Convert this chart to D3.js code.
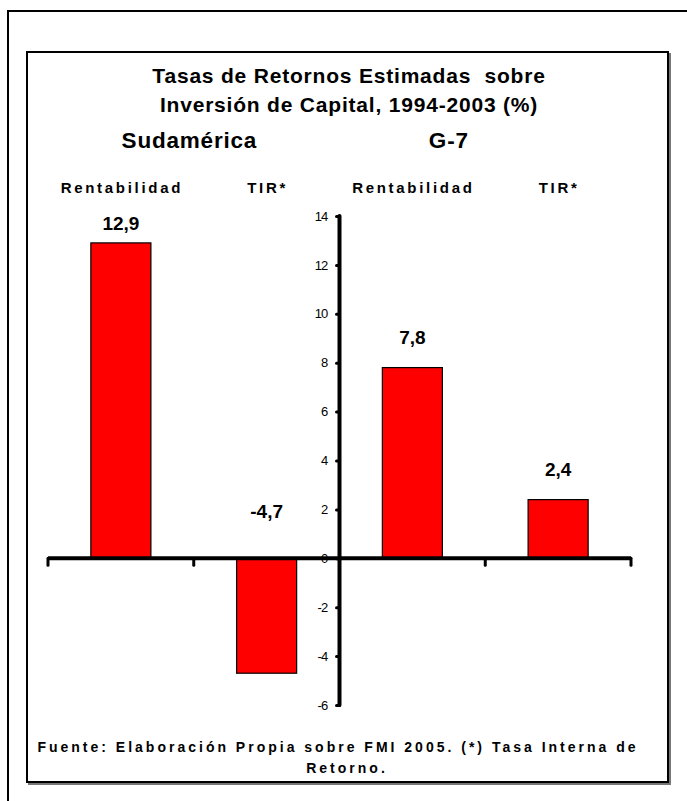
<!DOCTYPE html>
<html>
<head>
<meta charset="utf-8">
<script src="https://cdn.jsdelivr.net/npm/d3@7"></script>
<style>
  html, body { margin: 0; padding: 0; background: #fff; }
  svg { display: block; font-family: "Liberation Sans", Arial, sans-serif; }
  text { white-space: pre; }
</style>
</head>
<body>
<svg id="chart" width="687" height="801"></svg>
<script>
// Estimated returns on capital investment, 1994-2003 (%)
const groups = ["Sudamérica", "G-7"];
const metrics = ["Rentabilidad", "TIR*"];
const categories = ["Sudamérica|Rentabilidad", "Sudamérica|TIR*", "G-7|Rentabilidad", "G-7|TIR*"];
const values = [12.9, -4.7, 7.8, 2.4];
const valueLabels = ["12,9", "-4,7", "7,8", "2,4"];
const yTicks = [14, 12, 10, 8, 6, 4, 2, 0, -2, -4, -6];
const titleLines = ["Tasas de Retornos Estimadas  sobre", "Inversión de Capital, 1994-2003 (%)"];
const footerLines = ["Fuente: Elaboración Propia sobre FMI 2005. (*) Tasa Interna de", "Retorno."];

const svg = d3.select("#chart");

// frames
svg.append("rect").attr("x", 8).attr("y", 11).attr("width", 720).attr("height", 830)
  .attr("fill", "none").attr("stroke", "#000").attr("stroke-width", 2);
svg.append("rect").attr("x", 29).attr("y", 54).attr("width", 641).attr("height", 730)
  .attr("fill", "none").attr("stroke", "#777").attr("stroke-width", 2);
svg.append("rect").attr("x", 27).attr("y", 52).attr("width", 641).attr("height", 730)
  .attr("fill", "#fff").attr("stroke", "#000").attr("stroke-width", 2);

// scales
const x = d3.scaleBand().domain(categories).range([48, 631])
  .paddingInner(0.588).paddingOuter(0.294);
const y = d3.scaleLinear().domain([-6, 14]).range([705, 216]);
const step = x.step();
const left = x.range()[0];
const bandCenter = c => x(c) + x.bandwidth() / 2;

// titles
svg.selectAll("text.title").data(titleLines).join("text")
  .attr("class", "title")
  .attr("x", 349).attr("y", (d, i) => 83 + i * 29)
  .attr("text-anchor", "middle")
  .attr("font-size", 21).attr("font-weight", "bold")
  .attr("letter-spacing", 0.8)
  .text(d => d);

// group headings
const groupX = [bandCenter(categories[0]) + 0.47 * step, bandCenter(categories[2]) + 0.25 * step];
svg.selectAll("text.group").data(groups).join("text")
  .attr("class", "group")
  .attr("x", (d, i) => groupX[i]).attr("y", 148)
  .attr("text-anchor", "middle")
  .attr("font-size", 22.5).attr("font-weight", "bold")
  .attr("letter-spacing", 0.8)
  .text(d => d);

// metric headings over each bar
svg.selectAll("text.metric").data(categories).join("text")
  .attr("class", "metric")
  .attr("x", d => bandCenter(d) + 1).attr("y", 193)
  .attr("text-anchor", "middle")
  .attr("font-size", 15).attr("font-weight", "bold")
  .attr("letter-spacing", 2.7)
  .text(d => d.split("|")[1]);

// bars
svg.selectAll("rect.bar").data(values).join("rect")
  .attr("class", "bar")
  .attr("x", (d, i) => x(categories[i]))
  .attr("width", x.bandwidth())
  .attr("y", d => y(Math.max(d, 0)))
  .attr("height", d => Math.abs(y(d) - y(0)))
  .attr("fill", "#ff0000").attr("stroke", "#000").attr("stroke-width", 1.2);

// value labels
svg.selectAll("text.value").data(values).join("text")
  .attr("class", "value")
  .attr("x", (d, i) => bandCenter(categories[i]))
  .attr("y", d => d >= 0 ? Math.max(y(d) - 24, y(14) + 14) : y(0) - 40)
  .attr("text-anchor", "middle")
  .attr("font-size", 19).attr("font-weight", "bold")
  .text((d, i) => valueLabels[i]);

// category axis (horizontal, at zero)
const xAxis = svg.append("g");
xAxis.append("line")
  .attr("x1", left).attr("x2", x.range()[1])
  .attr("y1", y(0)).attr("y2", y(0))
  .attr("stroke", "#000").attr("stroke-width", 4);
xAxis.selectAll("line.tick").data(d3.range(categories.length + 1)).join("line")
  .attr("class", "tick")
  .attr("x1", i => left + i * step).attr("x2", i => left + i * step)
  .attr("y1", y(0)).attr("y2", y(0) + 7)
  .attr("stroke", "#000").attr("stroke-width", 3).attr("stroke-linecap", "round");

// value axis (vertical, between the two groups)
const axisX = left + 2 * step;
const yAxis = svg.append("g").attr("transform", `translate(${axisX},0)`)
  .call(d3.axisLeft(y).tickValues(yTicks).tickSize(4).tickPadding(8).tickFormat(d => String(d)));
yAxis.select(".domain").remove();
yAxis.selectAll(".tick line").attr("stroke-width", 3).attr("stroke-linecap", "round")
  .attr("x2", -3);
yAxis.selectAll(".tick text")
  .attr("font-family", "'Liberation Sans', Arial, sans-serif")
  .attr("font-size", 13).attr("letter-spacing", -0.8).attr("fill", "#000");
yAxis.append("line")
  .attr("x1", 0).attr("x2", 0).attr("y1", y(14)).attr("y2", y(-6))
  .attr("stroke", "#000").attr("stroke-width", 4).attr("stroke-linecap", "round");

// footer
svg.selectAll("text.footer").data(footerLines).join("text")
  .attr("class", "footer")
  .attr("x", (d, i) => i === 0 ? 338 : 347).attr("y", (d, i) => 752 + i * 21)
  .attr("text-anchor", "middle")
  .attr("font-size", 14).attr("font-weight", "bold")
  .attr("letter-spacing", 3)
  .text(d => d);
</script>
</body>
</html>
